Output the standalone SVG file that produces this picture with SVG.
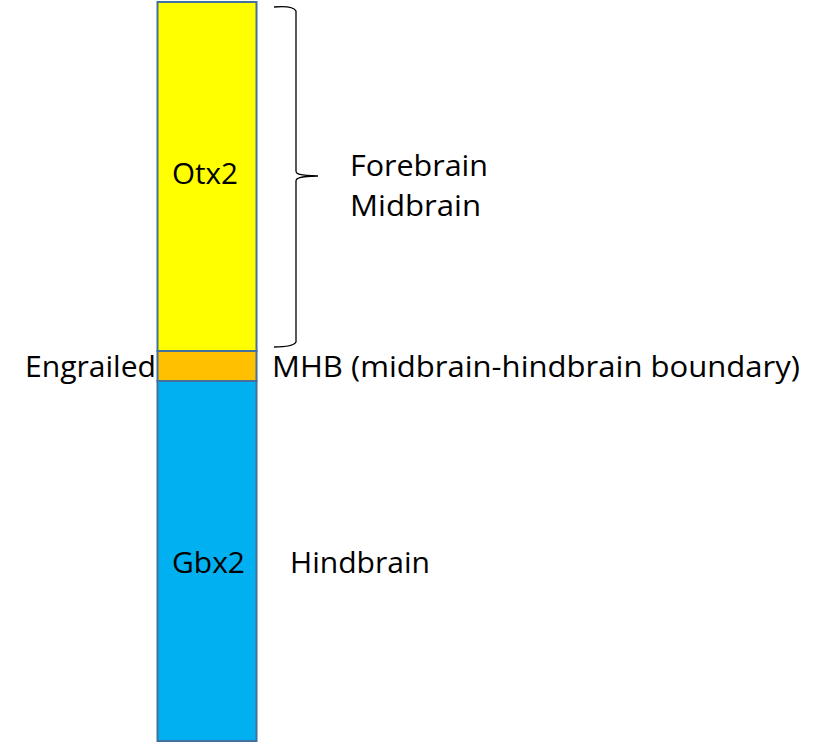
<svg xmlns="http://www.w3.org/2000/svg" width="830" height="744" viewBox="0 0 830 744">
<style>
.bar{stroke:#41719C;stroke-width:2}
.t{font-family:"Open Sans","Liberation Sans",sans-serif;font-size:30px;fill:#000}
</style>
<rect width="830" height="744" fill="#fff"/>
<g id="otx2">
<rect class="bar" x="157.5" y="2" width="99" height="349" fill="#FFFF00"/>
<text class="t" x="172" y="184" textLength="66" lengthAdjust="spacingAndGlyphs">Otx2</text>
</g>
<g id="engrailed">
<rect class="bar" x="157.5" y="351" width="99" height="30" fill="#FFC000"/>
<text class="t" x="25" y="377" textLength="131" lengthAdjust="spacingAndGlyphs">Engrailed</text>
</g>
<g id="gbx2">
<rect class="bar" x="157.5" y="381" width="99" height="360" fill="#00B0F0"/>
<text class="t" x="172" y="573" textLength="73" lengthAdjust="spacingAndGlyphs">Gbx2</text>
</g>
<g id="connectors">
<path d="M274,7 C286,6 294,7 296,11 L296,171 C296,174 299,175.5 318,176 C299,176.5 296,178 296,181 L296,342 C294,346 286,347 274,347" fill="none" stroke="#000" stroke-width="1.3"/>
</g>
<g id="labels">
<text class="t" x="350" y="176" textLength="138" lengthAdjust="spacingAndGlyphs">Forebrain</text>
<text class="t" x="350" y="216" textLength="131" lengthAdjust="spacingAndGlyphs">Midbrain</text>
<text class="t" x="272" y="377" textLength="528" lengthAdjust="spacingAndGlyphs">MHB (midbrain-hindbrain boundary)</text>
<text class="t" x="290" y="573" textLength="140" lengthAdjust="spacingAndGlyphs">Hindbrain</text>
</g>
</svg>
